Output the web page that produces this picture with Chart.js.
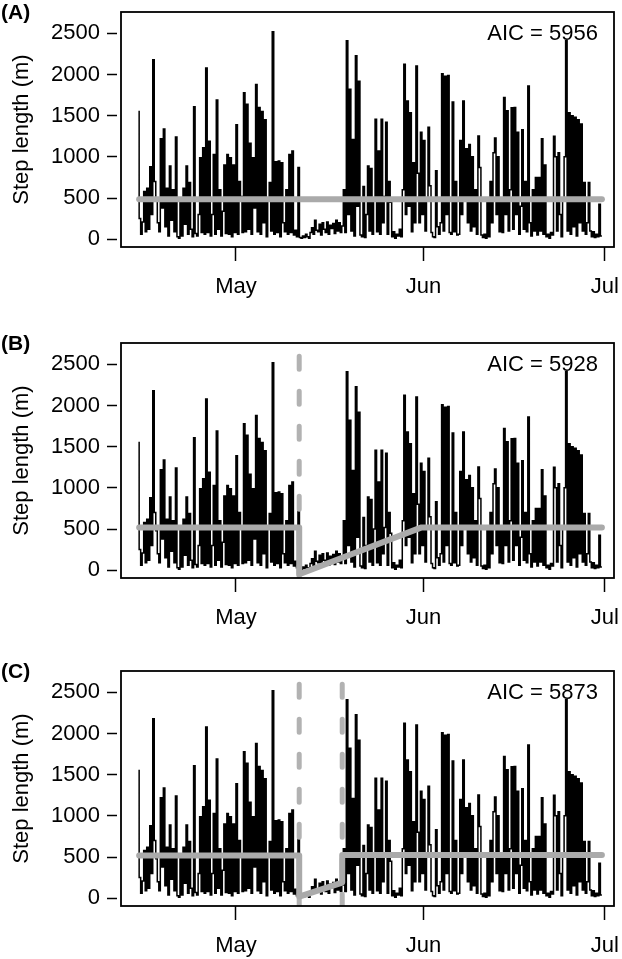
<!DOCTYPE html>
<html>
<head>
<meta charset="utf-8">
<script src="https://cdn.jsdelivr.net/npm/chart.js@4.4.1/dist/chart.umd.min.js"></script>
<style>
    html, body { margin: 0; padding: 0; background: #fff; }
    #wrap { position: relative; width: 622px; height: 959px; overflow: hidden; }
    canvas { position: absolute; left: 0; }
</style>
</head>
<body>
<div id="wrap">
    <canvas id="panelA" width="622" height="300" style="top:0px"></canvas>
    <canvas id="panelB" width="622" height="300" style="top:331px"></canvas>
    <canvas id="panelC" width="622" height="300" style="top:659px"></canvas>
</div>
<script>
// --- Data (days counted from 1 April; one fix every 6 hours from 15 April) ---
const firstDay = 14;
const fixInterval = 0.25;

// 15-30 April (4 values per day)
const aprilSteps = [
    1560, 250, 60, 210,   580, 90, 620, 120,   880, 300, 2180, 700,   480, 200, 90, 1220,
    380, 1340, 150, 620,  40, 890, 230, 600,   90, 1240, 30, 10,      480, 40, 620, 180,
    890, 60, 690, 120,    30, 1610, 70, 40,    300, 990, 80, 1110,    60, 2080, 80, 1190,
    40, 300, 1030, 60,    1690, 120, 600, 40,  340, 900, 70, 1030,    60, 990, 30, 900
];
// 1-31 May
const maySteps = [
    80, 1390, 60, 700,    520, 80, 1780, 90,   1640, 120, 1165, 60,   990, 380, 1880, 90,
    1600, 60, 1550, 200,  1450, 30, 500, 690,  100, 2520, 60, 940,    80, 950, 30, 930,
    200, 90, 600, 60,     1030, 80, 1070, 50,  110, 30, 870, 20,      10, 40, 20, 60,
    30, 10, 80, 140,      60, 230, 110, 90,    180, 50, 200, 120,     80, 210, 60, 170,
    130, 190, 70, 230,    100, 200, 80, 160,   600, 80, 2410, 300,    1820, 100, 1210, 40,
    2230, 400, 1920, 50,  30, 640, 20, 300,    890, 100, 860, 60,     500, 1456, 90, 1070,
    60, 1456, 200, 520,   1420, 60, 700, 450,  30, 90, 10, 60,        40, 120, 30, 600,
    2124, 300, 1680, 400, 1537, 90, 930, 200,  2103, 800, 200, 1300
];
// 1-30 June
const juneSteps = [
    300, 1200, 100, 500,  1360, 650, 80, 30,   20, 830, 150, 60,      200, 2010, 100, 1980,
    300, 1990, 80, 60,    1666, 90, 700, 50,   60, 1200, 300, 1680,   500, 1100, 200, 1150,
    100, 1000, 150, 600,  60, 1254, 870, 50,   20, 60, 10, 500,       30, 700, 200, 1050,
    1230, 300, 1000, 90,  500, 80, 1720, 300,  1560, 100, 600, 1598,  120, 1600, 300, 1300,
    60, 400, 1330, 120,   700, 90, 1860, 200,  40, 600, 100, 750,     50, 750, 100, 1220,
    60, 900, 30, 60,      10, 80, 50, 1250,    1000, 100, 1050, 300,  30, 500, 1000, 2410,
    100, 1537, 60, 1500,  150, 1480, 40, 1450, 200, 1400, 100, 690,   60, 200, 690, 100,
    30, 90, 20, 60,       30, 425, 40
];

// model fits (gray) and breakpoints (dashed)
const fitDaysA = [14, 90.5];
const fitLevelsA = [485, 485];
const fitDaysB = [14, 40.46, 40.46, 60.7, 90.5];
const fitLevelsB = [520, 520, -50, 520, 520];
const fitDaysC = [14, 40.46, 40.46, 47.57, 47.57, 90.5];
const fitLevelsC = [520, 520, 20, 190, 525, 525];
const breaksB = [40.46];
const breaksC = [40.46, 47.57];
const breakTop = 2600;

const monthTicks = [30, 61, 91];
const monthLabels = ['May', 'Jun', 'Jul'];
const yTicks = [0, 500, 1000, 1500, 2000, 2500];
const xMin = 11.0, xMax = 92.5;
const yMin = -95, yMax = 2760;

const FONT = '"Liberation Sans", Arial, Helvetica, sans-serif';

const stepLengths = aprilSteps.concat(maySteps, juneSteps);
const stepPoints = stepLengths.map((v, i) => ({ x: firstDay + i * fixInterval, y: v }));

// --- Plugin: box, panel tag and AIC text ---
const panelDecor = {
    id: 'panelDecor',
    afterDraw(chart, args, opts) {
        const { ctx, chartArea: a } = chart;
        ctx.save();
        ctx.strokeStyle = '#000';
        ctx.lineWidth = 1.8;
        ctx.strokeRect(a.left, a.top, a.right - a.left, a.bottom - a.top);
        ctx.fillStyle = '#000';
        ctx.font = 'bold 21px ' + FONT;
        ctx.textAlign = 'left';
        ctx.textBaseline = 'middle';
        ctx.fillText(opts.tag, 1, 13);
        ctx.font = '22px ' + FONT;
        ctx.textAlign = 'right';
        ctx.fillText('AIC = ' + opts.aic, a.right - 16, a.top + 22);
        ctx.restore();
    }
};

function makePanel(id, tag, aic, fitDays, fitLevels, breaks) {
    const datasets = [{
        data: stepPoints,
        borderColor: '#000',
        borderWidth: 1.5,
        pointRadius: 0,
        stepped: 'after',
        order: 3
    }, {
        data: fitDays.map((d, i) => ({ x: d, y: fitLevels[i] })),
        borderColor: '#aaaaaa',
        borderWidth: 6,
        borderCapStyle: 'round',
        borderJoinStyle: 'round',
        pointRadius: 0,
        order: 1
    }];
    breaks.forEach(d => {
        datasets.push({
            data: [{ x: d, y: breakTop }, { x: d, y: yMin }],
            borderColor: '#b2b2b2',
            borderWidth: 5,
            borderDash: [13, 22],
            borderCapStyle: 'round',
            pointRadius: 0,
            order: 2
        });
    });

    new Chart(document.getElementById(id), {
        type: 'line',
        data: { datasets },
        options: {
            responsive: false,
            animation: false,
            devicePixelRatio: 1,
            layout: { padding: { top: 12, right: 8, left: 0, bottom: 0 } },
            plugins: {
                legend: { display: false },
                tooltip: { enabled: false },
                panelDecor: { tag, aic }
            },
            scales: {
                x: {
                    type: 'linear',
                    min: xMin,
                    max: xMax,
                    afterBuildTicks: s => { s.ticks = monthTicks.map(v => ({ value: v })); },
                    ticks: {
                        callback: (v, i) => monthLabels[i],
                        color: '#000',
                        font: { size: 22, family: FONT },
                        padding: 13,
                        maxRotation: 0,
                        autoSkip: false
                    },
                    grid: { drawOnChartArea: false, tickLength: 14, tickColor: '#000', tickWidth: 1.5 },
                    border: { display: false },
                    afterFit: s => { s.height = 53; s.paddingLeft = 0; s.paddingRight = 0; }
                },
                y: {
                    min: yMin,
                    max: yMax,
                    afterBuildTicks: s => { s.ticks = yTicks.map(v => ({ value: v })); },
                    ticks: {
                        callback: v => String(v),
                        color: '#000',
                        font: { size: 22, family: FONT },
                        padding: 7,
                        autoSkip: false
                    },
                    grid: {
                        drawOnChartArea: false, tickLength: 14, tickColor: '#000',
                        tickWidth: 1.5, tickBorderDash: [10, 30]
                    },
                    border: { display: false },
                    title: {
                        display: true,
                        text: 'Step length (m)',
                        color: '#000',
                        font: { size: 22, family: FONT },
                        padding: { top: 9, bottom: 0 }
                    },
                    afterFit: s => { s.width = 121; s.paddingTop = 0; s.paddingBottom = 0; }
                }
            }
        },
        plugins: [panelDecor]
    });
}

makePanel('panelA', '(A)', 5956, fitDaysA, fitLevelsA, []);
makePanel('panelB', '(B)', 5928, fitDaysB, fitLevelsB, breaksB);
makePanel('panelC', '(C)', 5873, fitDaysC, fitLevelsC, breaksC);
</script>
</body>
</html>
